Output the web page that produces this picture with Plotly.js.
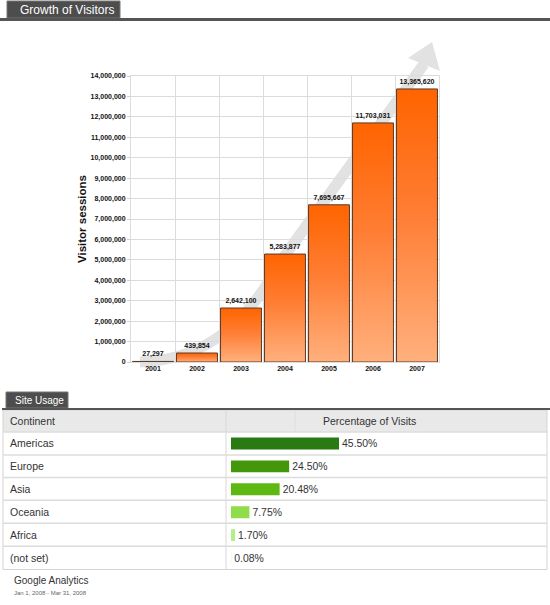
<!DOCTYPE html>
<html>
<head>
<meta charset="utf-8">
<script src="https://cdn.plot.ly/plotly-3.0.1.min.js"></script>
<style>
html,body{margin:0;padding:0;background:#fff;}
#chart{width:550px;height:605px;}
</style>
</head>
<body>
<div id="chart"></div>
<script>
// ---- data ----
const years = ['2001','2002','2003','2004','2005','2006','2007'];
const sessions = [27297, 439854, 2642100, 5283877, 7695667, 11703031, 13365620];
const continents = ['Americas','Europe','Asia','Oceania','Africa','(not set)'];
const visitPct = [45.50, 24.50, 20.48, 7.75, 1.70, 0.08];
const continentColors = ['#2a7a14','#44960a','#5db811','#8fdd4d','#b4ee88','#c8f4a8'];

// ---- helpers (pixel -> paper) ----
const W = 550, H = 605;
const px = x => x / W;
const py = y => 1 - y / H;
const P = (x, y) => px(x).toFixed(4) + ',' + py(y).toFixed(4);

const FONT = 'Arial, "Liberation Sans", Helvetica, sans-serif';

const traces = [
  {
    type: 'bar',
    x: years,
    y: sessions,
    xaxis: 'x', yaxis: 'y',
    marker: {color: '#ff7a2a', line: {color: '#5a3a28', width: 1}},
    texttemplate: '%{y:,d}',
    textposition: 'outside',
    cliponaxis: false,
    textfont: {family: FONT, size: 7, weight: 'bold', color: '#111'},
    hoverinfo: 'skip',
    showlegend: false
  },
  {
    type: 'bar',
    orientation: 'h',
    y: continents,
    x: visitPct,
    xaxis: 'x2', yaxis: 'y2',
    width: 0.52,
    marker: {color: continentColors, line: {width: 0}},
    texttemplate: '%{x:.2f}%',
    textposition: 'outside',
    cliponaxis: false,
    textfont: {family: FONT, size: 10.5, color: '#333'},
    hoverinfo: 'skip',
    showlegend: false
  }
];

const shapes = [
  // growth arrow (decoration behind bars)
  {type: 'path', xref: 'paper', yref: 'paper', layer: 'below',
   path: 'M' + P(140,362) + ' C' + P(210,360) + ' ' + P(250,318) + ' ' + P(280,262) + ' L' + P(424,64),
   line: {color: '#e2e2e2', width: 11}, fillcolor: 'rgba(0,0,0,0)'},
  {type: 'path', xref: 'paper', yref: 'paper', layer: 'below',
   path: 'M' + P(432,42) + ' L' + P(408,58) + ' L' + P(440,71) + ' Z',
   line: {width: 0}, fillcolor: '#e2e2e2'},
  // top tab + rule
  {type: 'rect', xref: 'paper', yref: 'paper', x0: px(7), x1: px(120), y0: py(18), y1: py(1),
   fillcolor: '#4d4d4d', line: {color: '#777', width: 1}},
  {type: 'rect', xref: 'paper', yref: 'paper', x0: 0, x1: 1, y0: py(21), y1: py(18),
   fillcolor: '#555', line: {width: 0}},
  // site usage tab + rule
  {type: 'rect', xref: 'paper', yref: 'paper', x0: px(6), x1: px(68), y0: py(408), y1: py(392),
   fillcolor: '#4d4d4d', line: {color: '#777', width: 1}},
  {type: 'rect', xref: 'paper', yref: 'paper', x0: px(2), x1: 1, y0: py(410), y1: py(408),
   fillcolor: '#555', line: {width: 0}},
  // table header background
  {type: 'rect', xref: 'paper', yref: 'paper', layer: 'below', x0: px(3), x1: px(547), y0: py(432), y1: py(410),
   fillcolor: '#e9e9e9', line: {width: 0}},
  // table outer border
  {type: 'rect', xref: 'paper', yref: 'paper', layer: 'below', x0: px(3), x1: px(547), y0: py(569.5), y1: py(410),
   fillcolor: 'rgba(0,0,0,0)', line: {color: '#d4d4d4', width: 1}},
  // column dividers
  {type: 'line', xref: 'paper', yref: 'paper', layer: 'below', x0: px(226), x1: px(226), y0: py(569.5), y1: py(410),
   line: {color: '#d8d8d8', width: 1}},
  {type: 'line', xref: 'paper', yref: 'paper', layer: 'below', x0: px(295), x1: px(295), y0: py(432), y1: py(410),
   line: {color: '#dedede', width: 1}}
];
// row dividers
const rowLines = [432, 455, 477.5, 500.3, 523.2, 546.3];
rowLines.forEach(y => shapes.push({type: 'line', xref: 'paper', yref: 'paper', layer: 'below',
  x0: px(3), x1: px(547), y0: py(y), y1: py(y), line: {color: '#dcdcdc', width: 1.5}}));

const annotations = [
  {xref: 'paper', yref: 'paper', x: px(18), y: py(10), xanchor: 'left', yanchor: 'middle',
   text: 'Growth of Visitors', showarrow: false, font: {family: FONT, size: 12, color: '#fff'}},
  {xref: 'paper', yref: 'paper', x: px(13), y: py(400.5), xanchor: 'left', yanchor: 'middle',
   text: 'Site Usage', showarrow: false, font: {family: FONT, size: 10, color: '#fff'}},
  {xref: 'paper', yref: 'paper', x: px(8), y: py(421), xanchor: 'left', yanchor: 'middle',
   text: 'Continent', showarrow: false, font: {family: FONT, size: 10.5, color: '#333'}},
  {xref: 'paper', yref: 'paper', x: px(369), y: py(421), xanchor: 'center', yanchor: 'middle',
   text: 'Percentage of Visits', showarrow: false, font: {family: FONT, size: 10.5, color: '#333'}},
  {xref: 'paper', yref: 'paper', x: px(12), y: py(580), xanchor: 'left', yanchor: 'middle',
   text: 'Google Analytics', showarrow: false, font: {family: FONT, size: 10, color: '#333'}},
  {xref: 'paper', yref: 'paper', x: px(12), y: py(592.5), xanchor: 'left', yanchor: 'middle',
   text: 'Jan 1, 2008 - Mar 31, 2008', showarrow: false, font: {family: FONT, size: 6, color: '#666'}}
];
continents.forEach(c => annotations.push({
  xref: 'paper', yref: 'y2', x: px(8), y: c, xanchor: 'left', yanchor: 'middle',
  text: c, showarrow: false, font: {family: FONT, size: 10.5, color: '#333'}
}));

const layout = {
  width: W, height: H,
  margin: {l: 0, r: 0, t: 0, b: 0},
  paper_bgcolor: '#fff',
  plot_bgcolor: 'rgba(0,0,0,0)',
  bargap: 0.07,
  font: {family: FONT, color: '#111'},
  xaxis: {
    domain: [px(131), px(439)],
    anchor: 'y',
    type: 'category',
    tickson: 'boundaries',
    showgrid: true, gridcolor: '#dcdcdc', gridwidth: 1,
    showline: true, mirror: true, linecolor: '#dcdcdc',
    ticks: '', zeroline: false,
    tickfont: {family: FONT, size: 7, weight: 'bold', color: '#111'},
    fixedrange: true
  },
  yaxis: {
    domain: [py(362), py(76)],
    anchor: 'x',
    range: [0, 14000000],
    dtick: 1000000,
    tickformat: ',d',
    showgrid: true, gridcolor: '#dcdcdc', gridwidth: 1,
    zeroline: true, zerolinecolor: '#c8c8c8',
    showline: true, mirror: true, linecolor: '#dcdcdc',
    ticks: 'outside', ticklen: 3, tickcolor: '#cccccc',
    tickfont: {family: FONT, size: 7, weight: 'bold', color: '#111'},
    title: {text: 'Visitor sessions', standoff: 1,
            font: {family: FONT, size: 11.5, weight: 'bold', color: '#111'}},
    fixedrange: true
  },
  xaxis2: {
    domain: [px(231), px(547)],
    anchor: 'y2',
    range: [0, (547 - 231) / 2.374],
    visible: false, showgrid: false, zeroline: false, fixedrange: true
  },
  yaxis2: {
    domain: [py(569.5), py(432)],
    anchor: 'x2',
    type: 'category',
    range: [5.5, -0.5],
    visible: false, showgrid: false, zeroline: false, fixedrange: true
  },
  shapes: shapes,
  annotations: annotations
};

Plotly.newPlot('chart', traces, layout, {staticPlot: true, displayModeBar: false}).then(gd => {
  // vertical orange gradient fill for the visitor bars
  const svgNS = 'http://www.w3.org/2000/svg';
  const svg = gd.querySelector('svg.main-svg');
  let defs = svg.querySelector('defs');
  if (!defs) { defs = document.createElementNS(svgNS, 'defs'); svg.insertBefore(defs, svg.firstChild); }
  const grad = document.createElementNS(svgNS, 'linearGradient');
  grad.setAttribute('id', 'orangeGrad');
  grad.setAttribute('x1', '0'); grad.setAttribute('y1', '0');
  grad.setAttribute('x2', '0'); grad.setAttribute('y2', '1');
  [['0', '#ff6400'], ['0.45', '#ff7d33'], ['1', '#ffb07d']].forEach(([o, c]) => {
    const s = document.createElementNS(svgNS, 'stop');
    s.setAttribute('offset', o); s.setAttribute('stop-color', c);
    grad.appendChild(s);
  });
  defs.appendChild(grad);
  gd.querySelectorAll('g.subplot.xy .barlayer .point path').forEach(p => {
    p.style.fill = 'url(#orangeGrad)';
  });
});
</script>
</body>
</html>
